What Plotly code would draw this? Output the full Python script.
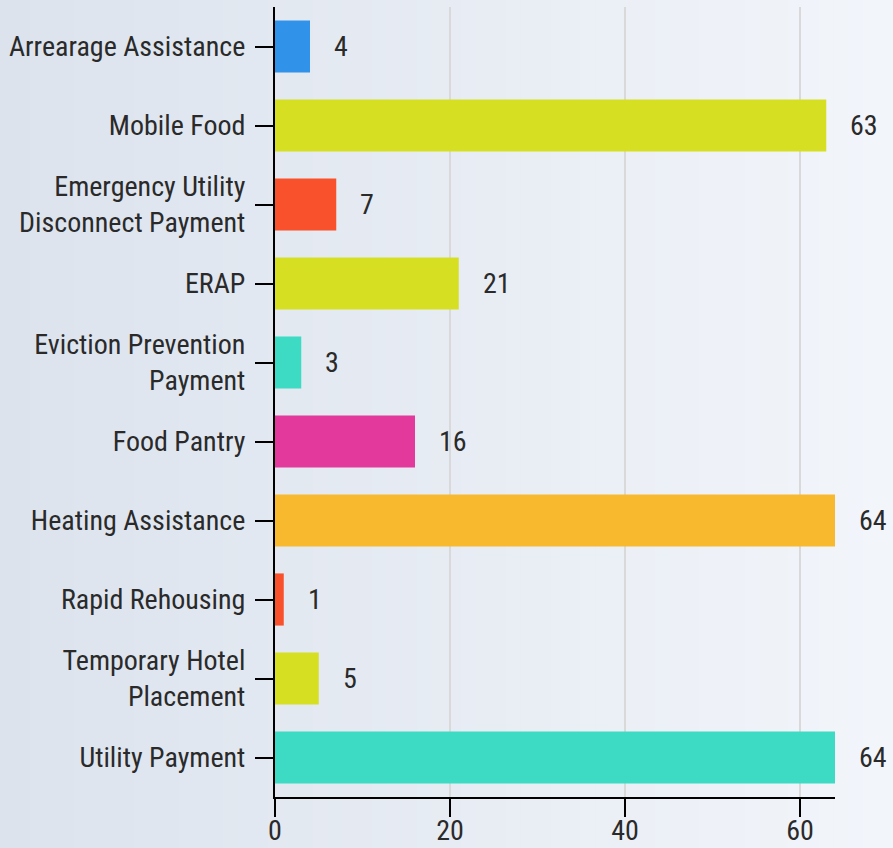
import plotly.graph_objects as go

categories = [
    "Arrearage Assistance",
    "Mobile Food",
    "Emergency Utility<br>Disconnect Payment",
    "ERAP",
    "Eviction Prevention<br>Payment",
    "Food Pantry",
    "Heating Assistance",
    "Rapid Rehousing",
    "Temporary Hotel<br>Placement",
    "Utility Payment",
]
values = [4, 63, 7, 21, 3, 16, 64, 1, 5, 64]
bar_colors = [
    "#3192EA", "#D6DF22", "#F9512B", "#D6DF22", "#3DDBC3",
    "#E4399C", "#F8B92E", "#F9512B", "#D6DF22", "#3DDBC3",
]
x_ticks = [0, 20, 40, 60]

FONT = "Roboto Condensed, Liberation Sans Narrow, Roboto, sans-serif"
TXT = "#2a2a2a"
FS = 28

fig = go.Figure()
fig.add_trace(go.Bar(
    y=categories, x=values, orientation="h",
    marker=dict(color=bar_colors, line=dict(width=0)),
    hoverinfo="x+y",
))

for c, v in zip(categories, values):
    fig.add_annotation(x=v, y=c, text=str(v), showarrow=False,
                       xanchor="left", xshift=22,
                       font=dict(family=FONT, size=FS, color=TXT))

# horizontal background gradient
n = 60
c0 = (220, 227, 237)
c1 = (242, 245, 250)
shapes = []
for i in range(n):
    t = i / (n - 1)
    col = tuple(round(a + (b - a) * t) for a, b in zip(c0, c1))
    shapes.append(dict(type="rect", xref="paper", yref="paper",
                       x0=-275/560 + i * (893/560) / n,
                       x1=-275/560 + (i + 1) * (893/560) / n + 0.002,
                       y0=-0.2, y1=1.1, layer="below",
                       fillcolor="rgb(%d,%d,%d)" % col, line=dict(width=0)))

fig.update_layout(
    width=893, height=848,
    margin=dict(l=275, r=58, t=7, b=51, autoexpand=False),
    paper_bgcolor="rgb(231,236,244)",
    plot_bgcolor="rgba(0,0,0,0)",
    shapes=shapes,
    bargap=0.34,
    showlegend=False,
    font=dict(family=FONT, size=FS, color=TXT),
    xaxis=dict(
        range=[0, 64], tickvals=x_ticks, showgrid=True, automargin=False,
        gridcolor="#d9d9d9", gridwidth=2, zeroline=False,
        showline=True, linecolor="black", linewidth=2,
        ticks="outside", ticklen=18, tickwidth=2, tickcolor="black",
        ticklabelstandoff=-11,
        tickfont=dict(family=FONT, size=FS, color=TXT),
    ),
    yaxis=dict(
        autorange="reversed", showgrid=False, zeroline=False, automargin=False,
        showline=True, linecolor="black", linewidth=2,
        ticks="outside", ticklen=18, tickwidth=2, tickcolor="black",
        ticklabelstandoff=4,
        tickfont=dict(family=FONT, size=FS, color=TXT),
    ),
)

fig.write_html("out.html",
               config={"displayModeBar": False},
               post_script="document.body.style.margin='0';document.body.style.overflow='hidden';")
